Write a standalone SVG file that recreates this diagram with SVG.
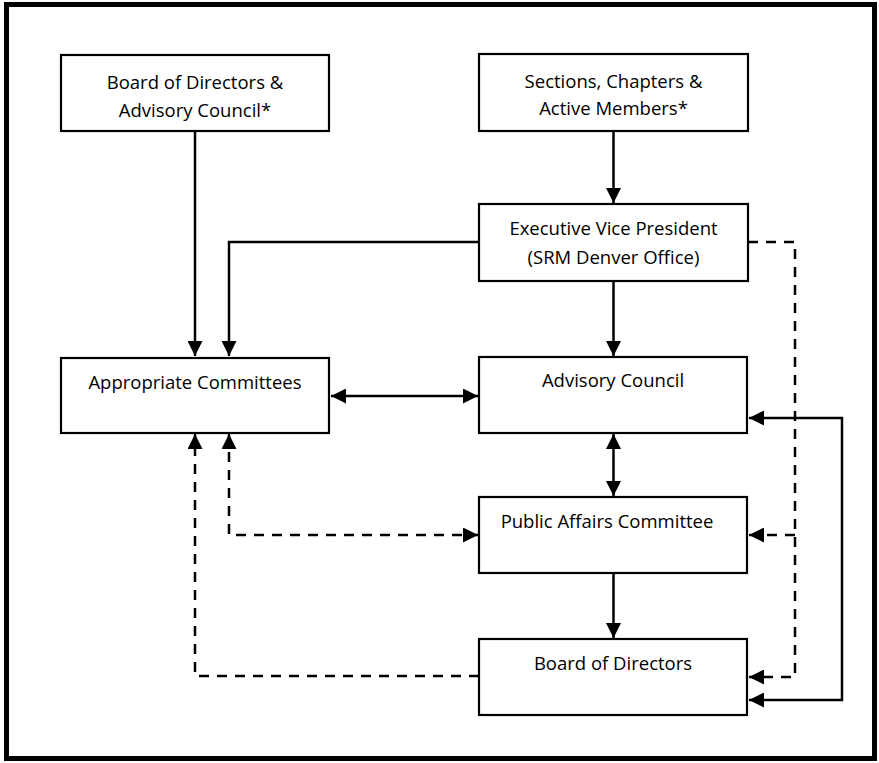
<svg xmlns="http://www.w3.org/2000/svg" width="879" height="763" viewBox="0 0 879 763">
<style>
.box{fill:#fff;stroke:#000;stroke-width:2.2}
.t{font-family:"Open Sans","Liberation Sans",sans-serif;font-size:18.5px;fill:#000;text-anchor:middle}
.c{fill:none;stroke:#000;stroke-width:2.5}
.d{stroke-dasharray:10 8}
</style>
<defs>
<marker id="ah" markerUnits="userSpaceOnUse" markerWidth="16" markerHeight="15" refX="15" refY="7.5" orient="auto-start-reverse">
<path d="M0,0 L15,7.5 L0,15 Z" fill="#000"/>
</marker>
</defs>
<rect x="6.5" y="4.5" width="868" height="754" fill="#fff" stroke="#000" stroke-width="5"/>
<g id="connectors">
<path class="c" d="M195,131 V356" marker-end="url(#ah)"/>
<path class="c" d="M613.5,131 V203" marker-end="url(#ah)"/>
<path class="c" d="M479,242 H229 V356" marker-end="url(#ah)"/>
<path class="c" d="M613.5,281 V356" marker-end="url(#ah)"/>
<path class="c" d="M331,396 H478" marker-start="url(#ah)" marker-end="url(#ah)"/>
<path class="c" d="M613.5,434 V496" marker-start="url(#ah)" marker-end="url(#ah)"/>
<path class="c" d="M613.5,574 V638" marker-end="url(#ah)"/>
<path class="c" d="M749,418 H842 V700 H749" marker-start="url(#ah)" marker-end="url(#ah)"/>
<path class="c d" d="M748,242 H795 V677 H749" marker-end="url(#ah)"/>
<path class="c d" d="M795,535 H749" marker-end="url(#ah)"/>
<path class="c d" d="M229,434 V535 H478" marker-start="url(#ah)" marker-end="url(#ah)"/>
<path class="c d" d="M479,676 H195 V434" marker-end="url(#ah)"/>
</g>
<g id="bod-ac">
<rect class="box" x="61" y="55" width="268" height="76"/>
<text class="t" x="195" y="89">Board of Directors &amp;</text>
<text class="t" x="195" y="117">Advisory Council*</text>
</g>
<g id="sections">
<rect class="box" x="479" y="54" width="269" height="77"/>
<text class="t" x="613.5" y="87.5">Sections, Chapters &amp;</text>
<text class="t" x="613.5" y="115">Active Members*</text>
</g>
<g id="evp">
<rect class="box" x="479" y="204" width="269" height="77"/>
<text class="t" x="613.5" y="235">Executive Vice President</text>
<text class="t" x="613.5" y="264">(SRM Denver Office)</text>
</g>
<g id="appropriate">
<rect class="box" x="61" y="358" width="268" height="75"/>
<text class="t" x="195" y="389">Appropriate Committees</text>
</g>
<g id="advisory">
<rect class="box" x="479" y="357" width="268" height="76"/>
<text class="t" x="613" y="387">Advisory Council</text>
</g>
<g id="pac">
<rect class="box" x="479" y="497" width="268" height="76"/>
<text class="t" x="607" y="528">Public Affairs Committee</text>
</g>
<g id="board">
<rect class="box" x="479" y="639" width="268" height="76"/>
<text class="t" x="613" y="670">Board of Directors</text>
</g>
</svg>
